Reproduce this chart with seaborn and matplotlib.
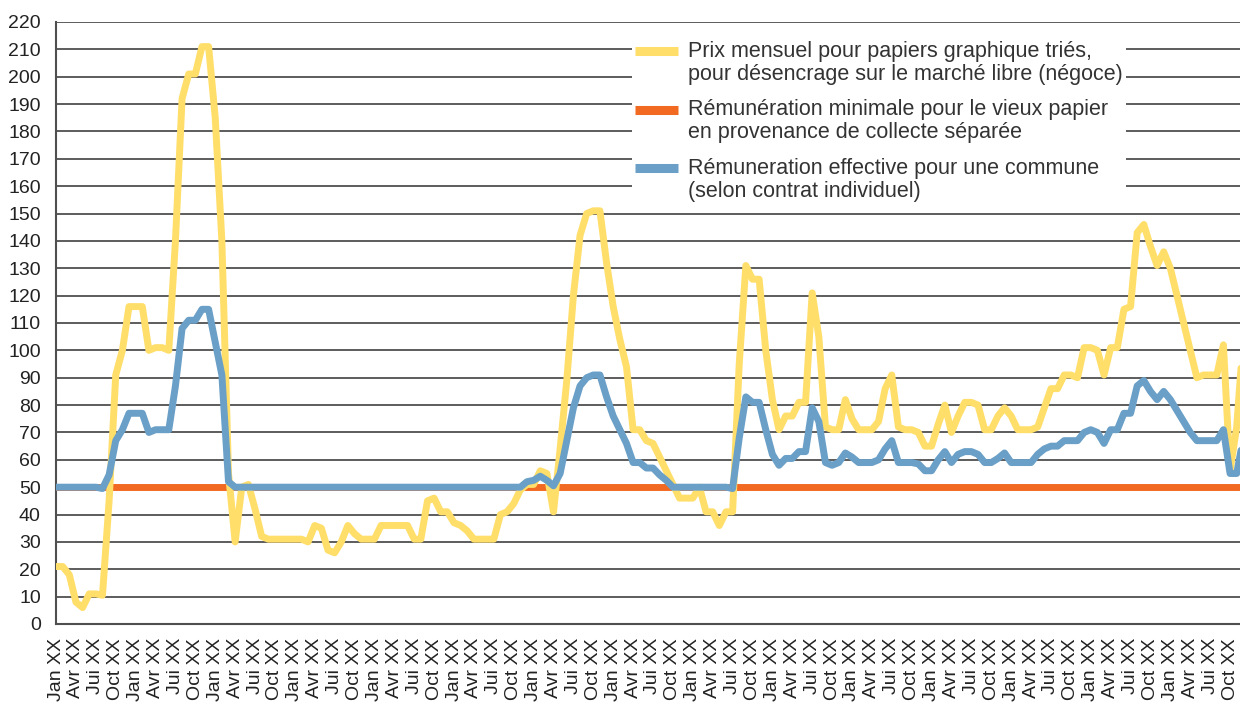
import matplotlib.pyplot as plt
import seaborn as sns
from matplotlib.lines import Line2D
from matplotlib.legend_handler import HandlerLine2D

sns.set_theme(style="white")
plt.rcParams["font.family"] = ["Liberation Sans", "DejaVu Sans"]

# quarter labels along the x axis (15 years, monthly data)
quarters = ["Jan XX", "Avr XX", "Jui XX", "Oct XX"]
tick_labels = quarters * 15

# monthly price for sorted graphic papers (free market)
prix = [
    21, 21, 18, 8, 6, 11, 11, 10.5, 45, 91, 100, 116,
    116, 116, 100, 101, 101, 100, 140, 192, 201, 201, 211, 211,
    185, 140, 55, 30, 50, 51, 42, 32, 31, 31, 31, 31,
    31, 31, 30, 36, 35, 27, 26, 30, 36, 33, 31, 31,
    31, 36, 36, 36, 36, 36, 31, 31, 45, 46, 41, 41,
    37, 36, 34, 31, 31, 31, 31, 40, 41, 44, 49, 51,
    51, 56, 55, 41, 64, 89, 120, 142, 150, 151, 151, 132,
    116, 104, 94, 71, 71, 67, 66, 61, 56, 51, 46, 46,
    46, 50, 41, 41, 36, 41, 41, 95, 131, 126, 126, 100,
    82, 71, 76, 76, 81, 81, 121, 105, 72, 71, 71, 82,
    75, 71, 71, 71, 74, 86, 91, 72, 71, 71, 70, 65,
    65, 73, 80, 70, 76, 81, 81, 80, 71, 71, 76, 79,
    76, 71, 71, 71, 72, 79, 86, 86, 91, 91, 90, 101,
    101, 100, 91, 101, 101, 115, 116, 143, 146, 138, 131, 136,
    130, 120, 110, 100, 90, 91, 91, 91, 102, 56, 72, 105,
]

# effective remuneration for one commune
effective = [
    50, 50, 50, 50, 50, 50, 50, 49.5, 54.5, 67, 71, 77,
    77, 77, 70, 71, 71, 71, 87, 108, 111, 111, 115, 115,
    103, 91, 52, 50, 50, 50, 50, 50, 50, 50, 50, 50,
    50, 50, 50, 50, 50, 50, 50, 50, 50, 50, 50, 50,
    50, 50, 50, 50, 50, 50, 50, 50, 50, 50, 50, 50,
    50, 50, 50, 50, 50, 50, 50, 50, 50, 50, 50, 52,
    52.5, 54, 52.5, 50.5, 55, 67, 79, 87, 90, 91, 91, 83,
    76, 71, 66, 59, 59, 57, 57, 54.5, 52.5, 50, 50, 50,
    50, 50, 50, 50, 50, 50, 49.5, 68, 83, 81, 81, 71,
    62, 58, 60.5, 60.5, 63, 63, 79, 74, 59, 58, 59, 62.5,
    61, 59, 59, 59, 60, 64, 67, 59, 59, 59, 58.5, 56,
    56, 60, 63, 59, 62, 63, 63, 62, 59, 59, 60.5, 62.5,
    59, 59, 59, 59, 62, 64, 65, 65, 67, 67, 67, 70,
    71, 70, 66, 71, 71, 77, 77, 87, 89, 85, 82, 85,
    82, 78, 74, 70, 67, 67, 67, 67, 71, 55, 55, 68,
]

# minimum remuneration (flat)
minimale = [50] * len(prix)
months = list(range(len(prix)))

yellow = "#FFDE6A"
orange = "#F26A22"
blue = "#6A9FC7"
grid_col = "#4f4f4f"


class FirstLineHandler(HandlerLine2D):
    # put the legend swatch next to the first text line, not the middle
    def create_artists(self, legend, orig_handle, xdescent, ydescent,
                       width, height, fontsize, trans):
        arts = super().create_artists(legend, orig_handle, xdescent, ydescent,
                                      width, height, fontsize, trans)
        for a in arts:
            a.set_ydata([y + 0.56 * fontsize for y in a.get_ydata()])
        return arts


fig = plt.figure(figsize=(12.4, 7.07), dpi=100)
ax = fig.add_axes([0.0452, 0.1174, 0.9548, 0.8515])

kw = dict(ax=ax, lw=5.0, solid_joinstyle="round", solid_capstyle="round")
sns.lineplot(x=months, y=minimale, color=orange, zorder=3, **kw)
sns.lineplot(x=months, y=prix, color=yellow, zorder=4, **kw)
sns.lineplot(x=months, y=effective, color=blue, zorder=5, **kw)

ax.set_xlim(0, 178.5)
ax.set_ylim(0, 220)
ax.set_yticks(range(0, 221, 10))
ax.set_xticks(range(0, len(prix), 3))
ax.set_xticklabels(tick_labels, rotation=90)
ax.tick_params(axis="both", labelsize=14, labelcolor="#222222", color=grid_col,
               direction="out", width=1.3)
ax.tick_params(axis="y", length=8, pad=3)
ax.tick_params(axis="x", length=6, pad=4)
ax.yaxis.grid(True, color=grid_col, lw=1.3)
ax.set_axisbelow(True)

for side in ["top", "right"]:
    ax.spines[side].set_visible(False)
for side in ["left", "bottom"]:
    ax.spines[side].set_color(grid_col)
    ax.spines[side].set_linewidth(1.5)

handles = [Line2D([], [], color=c, lw=6.5, solid_capstyle="butt")
           for c in (yellow, orange, blue)]
labels = [
    "Prix mensuel pour papiers graphique triés,\npour désencrage sur le marché libre (négoce)",
    "Rémunération minimale pour le vieux papier\nen provenance de collecte séparée",
    "Rémuneration effective pour une commune\n(selon contrat individuel)",
]
leg = ax.legend(handles, labels, loc="upper left", bbox_to_anchor=(0.4775, 0.992),
                fontsize=15.5, frameon=True, facecolor="white", edgecolor="none",
                framealpha=1, fancybox=False, handlelength=2.0, handletextpad=0.45,
                labelspacing=0.68, borderpad=0.15,
                handler_map={Line2D: FirstLineHandler()})
for t in leg.get_texts():
    t.set_color("#333333")
    t.set_linespacing(1.12)
leg.set_zorder(10)

plt.savefig("out.png", dpi=100)
